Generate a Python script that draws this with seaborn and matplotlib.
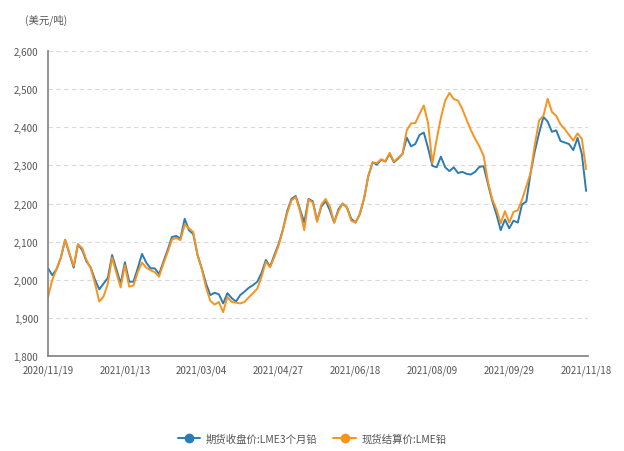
import numpy as np
import pandas as pd
import matplotlib
matplotlib.use("Agg")
import matplotlib.pyplot as plt
from matplotlib.lines import Line2D
from matplotlib.ticker import FuncFormatter
import seaborn as sns

# ---- data (every ~2 trading days) ----
tick_labels = ["2020/11/19", "2021/01/13", "2021/03/04", "2021/04/27",
               "2021/06/18", "2021/08/09", "2021/09/29", "2021/11/18"]

series_names = ["期货收盘价:LME3个月铅", "现货结算价:LME铅"]

lme3m = [2030, 2012, 2028, 2058, 2105, 2068, 2032, 2093, 2078, 2048,
         2032, 2000, 1975, 1990, 2005, 2065, 2028, 1990, 2046, 1995,
         1995, 2030, 2068, 2045, 2030, 2030, 2015, 2047, 2078, 2112,
         2115, 2108, 2160, 2130, 2120, 2065, 2030, 1990, 1960, 1966,
         1962, 1938, 1965, 1952, 1943, 1960, 1969, 1979, 1986, 1995,
         2018, 2052, 2035, 2065, 2094, 2132, 2180, 2212, 2220, 2185,
         2150, 2212, 2206, 2155, 2192, 2207, 2182, 2150, 2185, 2200,
         2190, 2160, 2150, 2172, 2213, 2272, 2308, 2302, 2315, 2310,
         2330, 2308, 2318, 2330, 2373, 2350, 2356, 2380, 2386, 2345,
         2299, 2295, 2323, 2295, 2285, 2295, 2280, 2283, 2278, 2276,
         2283, 2296, 2298, 2252, 2208, 2172, 2130, 2158, 2135, 2155,
         2150, 2198, 2205, 2280, 2338, 2385, 2427, 2415, 2388, 2392,
         2364, 2360, 2356, 2340, 2372, 2330, 2233]

lme_spot = [1955, 2000, 2028, 2058, 2105, 2070, 2036, 2093, 2083, 2052,
            2030, 1990, 1943, 1956, 1990, 2058, 2018, 1980, 2038, 1982,
            1985, 2020, 2045, 2032, 2025, 2020, 2008, 2042, 2072, 2105,
            2110, 2104, 2145, 2135, 2125, 2066, 2028, 1980, 1945, 1935,
            1942, 1915, 1955, 1942, 1940, 1938, 1942, 1954, 1965, 1977,
            2008, 2047, 2033, 2060, 2090, 2130, 2175, 2208, 2217, 2180,
            2130, 2210, 2203, 2152, 2197, 2212, 2192, 2150, 2180, 2200,
            2189, 2155, 2150, 2172, 2213, 2272, 2308, 2306, 2316, 2311,
            2333, 2310, 2320, 2330, 2392, 2410, 2411, 2435, 2457, 2410,
            2305, 2368, 2425, 2470, 2490, 2474, 2470, 2448, 2420, 2393,
            2370, 2350, 2325, 2258, 2212, 2185, 2148, 2180, 2150, 2178,
            2182, 2210, 2245, 2280, 2355, 2418, 2430, 2475, 2440, 2430,
            2408, 2395, 2380, 2365, 2384, 2370, 2290]

colors = ["#2b7bb4", "#f7931e"]

# ---- build long-form frame ----
n = len(lme3m)
idx = np.arange(n)
df = pd.DataFrame({
    "idx": np.concatenate([idx, idx]),
    "value": lme3m + lme_spot,
    "series": [series_names[0]] * n + [series_names[1]] * n,
})

sns.set_theme(style="white")
plt.rcParams["font.family"] = ["Noto Sans CJK SC", "DejaVu Sans"]
plt.rcParams["axes.unicode_minus"] = False

fig = plt.figure(figsize=(6.24, 4.52), dpi=100)
ax = fig.add_axes([0.077, 0.21, 0.865, 0.675])

sns.lineplot(data=df, x="idx", y="value", hue="series",
             palette=dict(zip(series_names, colors)), linewidth=1.4,
             ax=ax, legend=False)

ax.set_ylim(1800, 2600)
ax.set_yticks(np.arange(1800, 2601, 100))
ax.yaxis.set_major_formatter(FuncFormatter(lambda v, p: f"{int(v):,}"))
ax.set_xlim(0, 126.4)
step = (n - 1) / (len(tick_labels) - 1)
ax.set_xticks([i * step for i in range(len(tick_labels))])
ax.set_xticklabels(tick_labels)
ax.set_xlabel("")
ax.set_ylabel("")

ax.grid(axis="y", color="#d9d9d9", linestyle=(0, (4, 3)), linewidth=0.8)
ax.grid(axis="x", visible=False)
for s in ["top", "right"]:
    ax.spines[s].set_visible(False)
for s in ["left", "bottom"]:
    ax.spines[s].set_color("#7f7f7f")
    ax.spines[s].set_linewidth(1.2)

ax.tick_params(axis="both", labelsize=7, colors="#555555", length=4,
               width=0.8, direction="out", pad=2)
ax.tick_params(axis="y", length=5)

fig.text(0.04, 0.955, "(美元/吨)", fontsize=7.5, color="#555555",
         ha="left", va="center")

handles = [Line2D([0], [0], color=c, lw=1.4, marker="o", markersize=6)
           for c in colors]
fig.legend(handles, series_names, loc="center", bbox_to_anchor=(0.5, 0.028),
           ncol=2, frameon=False, fontsize=7.5, handlelength=2.2,
           columnspacing=1.5, handletextpad=0.5,
           labelcolor="#555555")

fig.savefig("out.png", dpi=100)
